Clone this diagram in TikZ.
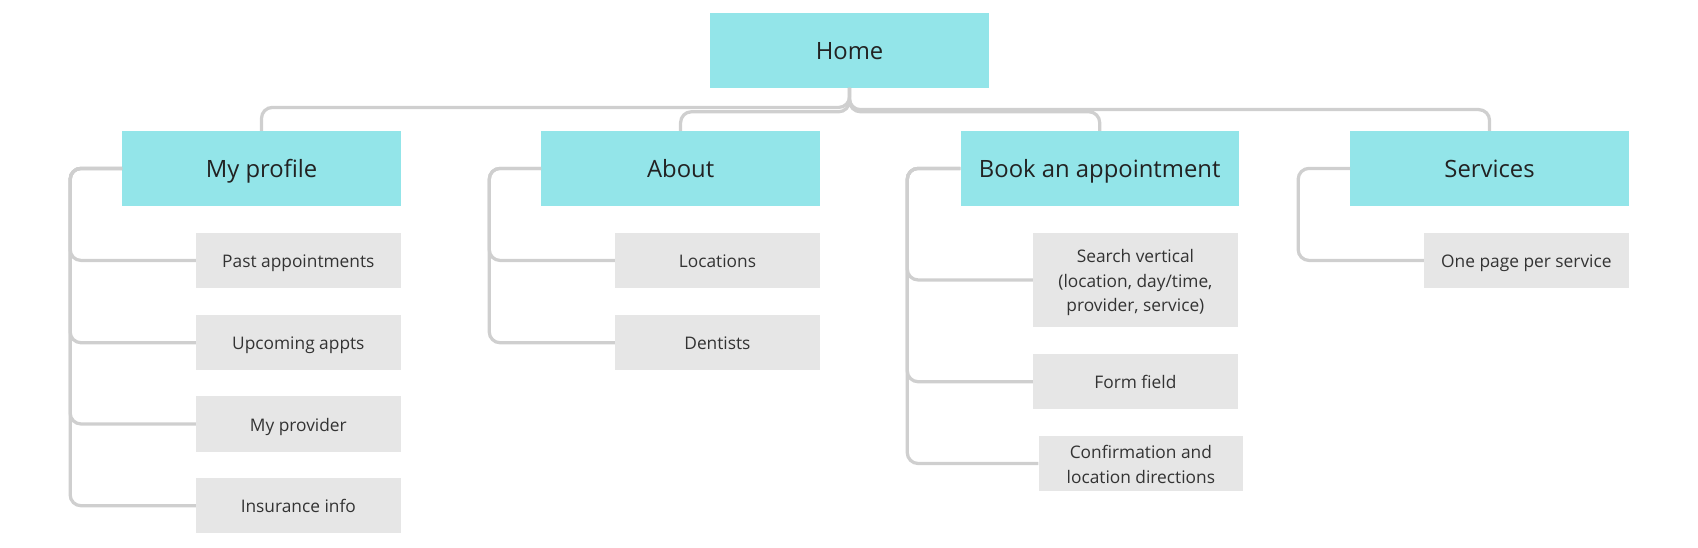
\documentclass[tikz,border=0pt]{standalone}
\usepackage{fontspec}
\setmainfont{Open Sans}
\definecolor{cyanbox}{HTML}{93E5E9}
\definecolor{graybox}{HTML}{E6E6E6}
\definecolor{connc}{HTML}{CFCFCF}
\definecolor{txtmain}{HTML}{222222}
\definecolor{txtsub}{HTML}{333333}
\begin{document}
\begin{tikzpicture}[x=1pt,y=-1pt,
  mainbox/.style={rectangle, fill=cyanbox, inner sep=0pt, minimum width=257pt, minimum height=69pt, font=\fontsize{22}{26}\selectfont, text=txtmain, text height=19pt, text depth=1.8pt},
  subbox/.style={rectangle, fill=graybox, inner sep=0pt, minimum width=189pt, minimum height=51pt, font=\fontsize{16}{23}\selectfont, text=txtsub, align=center, text height=15pt, text depth=1.8pt},
  conn/.style={draw=connc, line width=3pt, rounded corners=10pt}]
\useasboundingbox (0,0) rectangle (1568,506);
% nodes
\node[mainbox] (home) at (784.5,46.5) {Home};
\node[mainbox] (prof) at (241.5,155.5) {My profile};
\node[mainbox] (about) at (628.5,155.5) {About};
\node[mainbox] (book) at (1015.5,155.5) {Book an appointment};
\node[mainbox] (serv) at (1375.5,155.5) {Services};
\node[subbox] (past) at (275.5,240.5) {Past appointments};
\node[subbox] (upc) at (275.5,316.5) {Upcoming appts};
\node[subbox] (prov) at (275.5,391.5) {My provider};
\node[subbox] (ins) at (275.5,467) {Insurance info};
\node[subbox] (loc) at (662.5,240.5) {Locations};
\node[subbox] (dent) at (662.5,316.5) {Dentists};
\node[subbox, minimum height=87pt, text height=61pt] (search) at (1048.5,258.5) {Search vertical\\(location, day/time,\\provider, service)};
\node[subbox] (form) at (1048.5,352.5) {Form field};
\node[subbox, minimum height=50pt, text height=38pt] (conf) at (1053.5,428) {Confirmation and\\location directions};
\node[subbox] (page) at (1409.5,240.5) {One page per service};
% top connectors
\draw[conn] (home.south) -- ++(0,18) -| (prof.north);
\draw[conn] (home.south) -- ++(0,22) -| (about.north);
\draw[conn] (home.south) -- ++(0,22) -| (book.north);
\draw[conn] (home.south) -- ++(0,20) -| (serv.north);
% side connectors
\foreach \c in {past,upc,prov,ins} \draw[conn] (prof.west) -- ++(-48,0) |- (\c.west);
\foreach \c in {loc,dent} \draw[conn] (about.west) -- ++(-48,0) |- (\c.west);
\foreach \c in {search,form,conf} \draw[conn] (book.west) -- ++(-49,0) |- (\c.west);
\draw[conn] (serv.west) -- ++(-48,0) |- (page.west);
\end{tikzpicture}
\end{document}
